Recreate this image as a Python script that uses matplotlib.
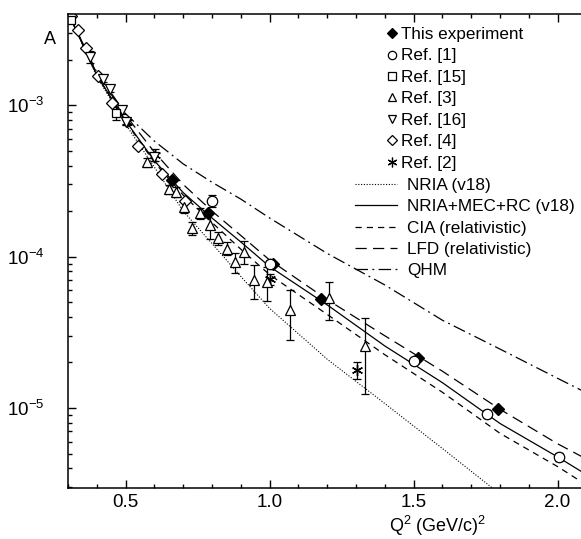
import matplotlib
matplotlib.use("Agg")
import matplotlib.pyplot as plt
from matplotlib.lines import Line2D
from matplotlib.ticker import MultipleLocator, FormatStrFormatter, LogLocator

plt.rcParams["font.family"] = ["Liberation Sans", "DejaVu Sans"]
plt.rcParams["mathtext.fontset"] = "custom"
plt.rcParams["mathtext.rm"] = "Liberation Sans"
plt.rcParams["mathtext.it"] = "Liberation Sans"

# --- data: Q^2 in (GeV/c)^2, A dimensionless ---
# This experiment
q_this = [0.66, 0.787, 1.013, 1.178, 1.516, 1.794]
a_this = [3.21e-4, 1.93e-4, 8.9e-5, 5.23e-5, 2.13e-5, 9.8e-6]

# Ref. [1]
q_r1 = [0.80, 1.00, 1.50, 1.754, 2.006]
a_r1 = [2.33e-4, 9.0e-5, 2.04e-5, 9.08e-6, 4.77e-6]
e_r1 = [2.1e-5, 4.5e-6, 1.0e-6, 5.5e-7, 3.0e-7]

# Ref. [15]
q_r15 = [0.31, 0.466]
a_r15 = [3.66e-3, 8.85e-4]
e_r15 = [1.0e-4, 9.0e-5]

# Ref. [3]
q_r3 = [0.573, 0.652, 0.674, 0.704, 0.731, 0.760, 0.793, 0.822, 0.853,
        0.880, 0.912, 0.946, 0.990, 1.071, 1.206, 1.331]
a_r3 = [4.2e-4, 2.79e-4, 2.68e-4, 2.14e-4, 1.54e-4, 1.93e-4, 1.62e-4, 1.32e-4,
        1.13e-4, 9.24e-5, 1.08e-4, 7.0e-5, 6.8e-5, 4.43e-5, 5.3e-5, 2.57e-5]
e_r3 = [2.9e-5, 2.0e-5, 1.9e-5, 1.9e-5, 1.5e-5, 1.5e-5, 3.2e-5, 1.3e-5,
        1.1e-5, 1.4e-5, 1.8e-5, 1.75e-5, 1.7e-5, 1.6e-5, 1.5e-5, 1.34e-5]

# Ref. [16]
q_r16 = [0.376, 0.423, 0.446, 0.486, 0.503, 0.599]
a_r16 = [2.1e-3, 1.5e-3, 1.28e-3, 9.3e-4, 7.8e-4, 4.57e-4]
e_r16 = [2.0e-4, 7.0e-5, 6.0e-5, 5.0e-5, 4.0e-5, 3.0e-5]

# Ref. [4]
q_r4 = [0.31, 0.336, 0.3625, 0.405, 0.454, 0.542, 0.627, 0.706]
a_r4 = [3.91e-3, 3.15e-3, 2.38e-3, 1.56e-3, 1.04e-3, 5.38e-4, 3.52e-4, 2.33e-4]

# Ref. [2]
q_r2 = [0.505, 0.602, 1.0, 1.302]
a_r2 = [7.7e-4, 4.7e-4, 7.1e-5, 1.78e-5]
e_r2 = [3.0e-5, 4.3e-5, 6.0e-6, 2.3e-6]

# theory curves
q_curve = [0.30, 0.40, 0.50, 0.60, 0.70, 0.80, 0.90, 1.00, 1.20, 1.40, 1.60,
           1.80, 2.00, 2.10]
a_nria = [4.1e-3, 1.55e-3, 7.5e-4, 3.9e-4, 2.0e-4, 1.22e-4, 7.4e-5, 4.55e-5,
          2.1e-5, 1.07e-5, 5.4e-6, 2.7e-6, 1.4e-6, 1.0e-6]
a_full = [4.1e-3, 1.58e-3, 7.9e-4, 4.3e-4, 2.65e-4, 1.8e-4, 1.25e-4, 8.6e-5,
          4.8e-5, 2.57e-5, 1.47e-5, 7.9e-6, 4.75e-6, 3.63e-6]
a_cia = [4.1e-3, 1.58e-3, 7.8e-4, 4.2e-4, 2.55e-4, 1.68e-4, 1.12e-4, 7.6e-5,
         4.15e-5, 2.25e-5, 1.27e-5, 6.8e-6, 4.1e-6, 3.1e-6]
a_lfd = [4.1e-3, 1.62e-3, 8.6e-4, 4.9e-4, 3.0e-4, 2.0e-4, 1.38e-4, 9.5e-5,
         5.2e-5, 3.0e-5, 1.75e-5, 9.8e-6, 5.8e-6, 4.6e-6]
a_qhm = [4.1e-3, 1.65e-3, 8.8e-4, 5.8e-4, 4.1e-4, 3.1e-4, 2.4e-4, 1.8e-4,
         1.05e-4, 6.5e-5, 3.8e-5, 2.45e-5, 1.57e-5, 1.26e-5]

fig = plt.figure(figsize=(5.81, 5.39), dpi=100)
ax = fig.add_axes([68 / 581, 51 / 539, 513 / 581, 474 / 539])

# curves
lw = 0.9
ax.plot(q_curve, a_nria, color="k", lw=0.8, ls=(0, (1, 1.5)))
ax.plot(q_curve, a_full, color="k", lw=lw, ls="-")
ax.plot(q_curve, a_cia, color="k", lw=lw, ls=(0, (5, 4)))
ax.plot(q_curve, a_lfd, color="k", lw=lw, ls=(0, (9, 5)))
ax.plot(q_curve, a_qhm, color="k", lw=lw, ls=(0, (10, 3.5, 1.5, 3.5)))

# data points
ms = 7.5
eb = dict(ecolor="k", elinewidth=0.9, capsize=2.6, capthick=0.9, ls="none",
          mec="k", mew=0.9)
ax.errorbar(q_r3, a_r3, yerr=e_r3, fmt="^", ms=ms, mfc="white", **eb)
ax.errorbar(q_r16, a_r16, yerr=e_r16, fmt="v", ms=ms, mfc="white", **eb)
ax.errorbar(q_r15, a_r15, yerr=e_r15, fmt="s", ms=6, mfc="white", **eb)
ax.plot(q_r4, a_r4, "D", ms=6.5, mfc="white", mec="k", mew=0.9, ls="none")
ax.errorbar(q_r1, a_r1, yerr=e_r1, fmt="o", ms=ms, mfc="white", **eb)
ax.errorbar(q_r2, a_r2, yerr=e_r2, fmt="none", **{k: v for k, v in eb.items()
                                                 if k not in ("mec", "mew")})
ax.plot(q_r2, a_r2, marker=(6, 2, 0), ms=8, color="k", mew=1.0, ls="none")
ax.plot(q_this, a_this, "D", ms=6.5, color="k", ls="none")

ax.set_yscale("log")
ax.set_xlim(0.3, 0.3 + 513 / 288)
ax.set_ylim(2.96e-6, 4.01e-3)

ax.xaxis.set_major_locator(MultipleLocator(0.5))
ax.xaxis.set_minor_locator(MultipleLocator(0.1))
ax.xaxis.set_major_formatter(FormatStrFormatter("%.1f"))
ax.yaxis.set_major_locator(LogLocator(base=10))
ax.yaxis.set_minor_locator(LogLocator(base=10, subs=range(2, 10)))

ax.tick_params(which="both", direction="in", top=True, right=False,
               labelsize=13.5, width=1.0)
ax.tick_params(axis="x", pad=4.5)
ax.tick_params(axis="y", pad=17)
ax.tick_params(which="major", length=6)
ax.tick_params(which="minor", length=3)
ax.spines["right"].set_visible(False)
for s in ("left", "top", "bottom"):
    ax.spines[s].set_linewidth(1.1)

fig.text(50 / 581, 1 - 39 / 539, "A", fontsize=13, ha="center", va="center")
fig.text(438 / 581, 1 - 532 / 539, r"Q$^2$ (GeV/c)$^2$", fontsize=13,
         ha="center", va="baseline")

# legends
mk = dict(color="k", ls="none", mec="k", mew=0.9)
h_pts = [
    Line2D([], [], marker="D", ms=5, mfc="k", **mk),
    Line2D([], [], marker="o", ms=6, mfc="white", **mk),
    Line2D([], [], marker="s", ms=5.5, mfc="white", **mk),
    Line2D([], [], marker="^", ms=6, mfc="white", **mk),
    Line2D([], [], marker="v", ms=6, mfc="white", **mk),
    Line2D([], [], marker="D", ms=5.5, mfc="white", **mk),
    Line2D([], [], marker=(6, 2, 0), ms=7, mfc="k", **mk),
]
l_pts = ["This experiment", "Ref. [1]", "Ref. [15]", "Ref. [3]", "Ref. [16]",
         "Ref. [4]", "Ref. [2]"]
leg1 = ax.legend(h_pts, l_pts, loc="upper left",
                 bbox_to_anchor=(388 / 581, 1 - 27 / 539),
                 bbox_transform=fig.transFigure, frameon=False, fontsize=12.3,
                 handlelength=0.5, handletextpad=0.25, labelspacing=0.38,
                 borderpad=0, borderaxespad=0)
ax.add_artist(leg1)

h_lines = [
    Line2D([], [], color="k", lw=0.8, ls=(0, (1, 1.5))),
    Line2D([], [], color="k", lw=lw, ls="-"),
    Line2D([], [], color="k", lw=lw, ls=(0, (5, 4))),
    Line2D([], [], color="k", lw=lw, ls=(0, (9, 5))),
    Line2D([], [], color="k", lw=lw, ls=(0, (10, 3.5, 1.5, 3.5))),
]
l_lines = ["NRIA (v18)", "NRIA+MEC+RC (v18)", "CIA (relativistic)",
           "LFD (relativistic)", "QHM"]
ax.legend(h_lines, l_lines, loc="upper left",
          bbox_to_anchor=(355 / 581, 1 - 178 / 539),
          bbox_transform=fig.transFigure, frameon=False, fontsize=12.3,
          handlelength=2.45, handletextpad=0.6, labelspacing=0.37,
          borderpad=0, borderaxespad=0)

fig.savefig("out.png", dpi=100)
